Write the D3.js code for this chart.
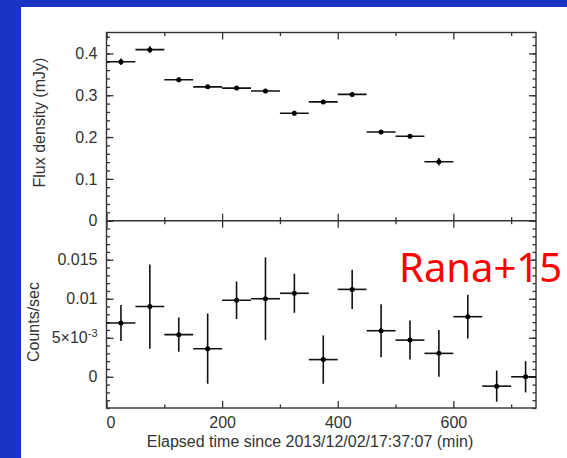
<!DOCTYPE html>
<html lang="en">
<head>
<meta charset="UTF-8">
<title>Flux density and X-ray counts</title>
<script src="https://cdn.jsdelivr.net/npm/d3@7"></script>
<style>
  body { margin: 0; background: #1933c2; }
  svg { display: block; }
</style>
</head>
<body>
<script>
// top panel: flux density (mJy), 50 min bins
const fluxTimes = [25, 75, 125, 175, 225, 275, 325, 375, 425, 475, 525, 575];
const fluxValues = [0.380, 0.409, 0.337, 0.320, 0.317, 0.310, 0.257, 0.284, 0.302, 0.212, 0.202, 0.141];
const fluxErr = [0.008, 0.008, 0.006, 0.005, 0.005, 0.005, 0.006, 0.005, 0.005, 0.005, 0.005, 0.009];

// bottom panel: counts/sec
const countTimes = [25, 75, 125, 175, 225, 275, 325, 375, 425, 475, 525, 575, 625, 675, 725];
const countValues = [0.0069, 0.0090, 0.0054, 0.0036, 0.0098, 0.0100, 0.0107, 0.0022, 0.0112, 0.0059, 0.0047, 0.0030, 0.0077, -0.0012, 0.0000];
const countErr = [0.0023, 0.0054, 0.0022, 0.0045, 0.0024, 0.0053, 0.0025, 0.0031, 0.0025, 0.0034, 0.0025, 0.0030, 0.0028, 0.0020, 0.0020];
const binHalf = 25;

const xMajor = [0, 200, 400, 600];
const xMajorLabels = ['0', '200', '400', '600'];
const xMinor = [100, 300, 500, 700];
const fluxMajor = [0, 0.1, 0.2, 0.3, 0.4];
const fluxLabels = ['0', '0.1', '0.2', '0.3', '0.4'];
const fluxMinor = d3.range(0, 0.4501, 0.02);
const countMajor = [0, 0.005, 0.01, 0.015];
const countLabels = ['0', '5×10', '0.01', '0.015'];
const countMinor = d3.range(-0.004, 0.02001, 0.001);

const width = 567;
const height = 458;
const ink = '#333';
const font = '"Liberation Sans", Arial, sans-serif';

const svg = d3.select('body').append('svg')
  .attr('width', width)
  .attr('height', height);

// slide background + white card
svg.append('rect').attr('width', width).attr('height', height).attr('fill', '#1933c2');
svg.append('rect').attr('x', 21).attr('y', 7).attr('width', width - 21).attr('height', height - 7).attr('fill', '#fff');

const x = d3.scaleLinear().domain([0, 743]).range([106.5, 536]);
const yFlux = d3.scaleLinear().domain([0, 0.45]).range([220.7, 32.5]);
const yCount = d3.scaleLinear().domain([-0.004, 0.02]).range([408, 220.7]);

function addTicks(axis, values, size, labels, transform) {
  const g = svg.append('g').attr('transform', transform || null);
  axis.tickValues(values)
    .tickSizeInner(-size)
    .tickSizeOuter(0)
    .tickPadding(9)
    .tickFormat(labels ? (d, i) => labels[i] : () => '');
  g.call(axis);
  g.select('.domain').remove();
  g.attr('font-size', 16).attr('font-family', font);
  g.selectAll('line').attr('stroke', ink).attr('stroke-width', 1.3);
  g.selectAll('text').attr('fill', ink);
  return g;
}

// top panel ticks
addTicks(d3.axisLeft(yFlux), fluxMajor, 7, fluxLabels, `translate(${x.range()[0]},0)`);
addTicks(d3.axisLeft(yFlux), fluxMinor, 3.5, null, `translate(${x.range()[0]},0)`);
addTicks(d3.axisRight(yFlux), fluxMajor, 7, null, `translate(${x.range()[1]},0)`);
addTicks(d3.axisRight(yFlux), fluxMinor, 3.5, null, `translate(${x.range()[1]},0)`);
addTicks(d3.axisTop(x), xMajor, 7, null, `translate(0,${yFlux.range()[1]})`);
addTicks(d3.axisTop(x), xMinor, 3.5, null, `translate(0,${yFlux.range()[1]})`);
addTicks(d3.axisBottom(x), xMajor, 7, null, `translate(0,${yFlux(0)})`);
addTicks(d3.axisBottom(x), xMinor, 3.5, null, `translate(0,${yFlux(0)})`);

// bottom panel ticks
const countAxis = addTicks(d3.axisLeft(yCount), countMajor, 7, countLabels, `translate(${x.range()[0]},0)`);
countAxis.selectAll('text').filter(d => d === 0.005)
  .append('tspan')
  .attr('font-size', 11)
  .attr('dy', '-0.55em')
  .text('-3');
addTicks(d3.axisLeft(yCount), countMinor, 3.5, null, `translate(${x.range()[0]},0)`);
addTicks(d3.axisRight(yCount), countMajor, 7, null, `translate(${x.range()[1]},0)`);
addTicks(d3.axisRight(yCount), countMinor, 3.5, null, `translate(${x.range()[1]},0)`);
addTicks(d3.axisTop(x), xMajor, 7, null, `translate(0,${yCount.range()[1]})`);
addTicks(d3.axisTop(x), xMinor, 3.5, null, `translate(0,${yCount.range()[1]})`);
const xAxisG = addTicks(d3.axisBottom(x), xMajor, 7, xMajorLabels, `translate(0,${yCount.range()[0]})`);
xAxisG.selectAll('text').filter(d => d === 0).attr('dx', 4);
addTicks(d3.axisBottom(x), xMinor, 3.5, null, `translate(0,${yCount.range()[0]})`);

// frames
svg.append('rect')
  .attr('x', x.range()[0]).attr('y', yFlux.range()[1])
  .attr('width', x.range()[1] - x.range()[0])
  .attr('height', yCount.range()[0] - yFlux.range()[1])
  .attr('fill', 'none').attr('stroke', ink).attr('stroke-width', 1.4);
svg.append('line')
  .attr('x1', x.range()[0]).attr('x2', x.range()[1])
  .attr('y1', yFlux(0)).attr('y2', yFlux(0))
  .attr('stroke', ink).attr('stroke-width', 1.4);

svg.append('clipPath').attr('id', 'clip')
  .append('rect')
  .attr('x', x.range()[0]).attr('y', yFlux.range()[1])
  .attr('width', x.range()[1] - x.range()[0])
  .attr('height', yCount.range()[0] - yFlux.range()[1]);

function drawPoints(times, values, errs, yScale) {
  const g = svg.append('g').attr('clip-path', 'url(#clip)');
  const pts = g.selectAll('g.pt')
    .data(times.map((t, i) => ({ t, v: values[i], e: errs[i] })))
    .enter().append('g').attr('class', 'pt');
  pts.append('line')
    .attr('x1', d => x(d.t - binHalf)).attr('x2', d => x(d.t + binHalf))
    .attr('y1', d => yScale(d.v)).attr('y2', d => yScale(d.v))
    .attr('stroke', '#111').attr('stroke-width', 1.6);
  pts.append('line')
    .attr('x1', d => x(d.t)).attr('x2', d => x(d.t))
    .attr('y1', d => yScale(d.v - d.e)).attr('y2', d => yScale(d.v + d.e))
    .attr('stroke', '#111').attr('stroke-width', 1.6);
  pts.append('circle')
    .attr('cx', d => x(d.t)).attr('cy', d => yScale(d.v))
    .attr('r', 2.5).attr('fill', '#000');
}

drawPoints(fluxTimes, fluxValues, fluxErr, yFlux);
drawPoints(countTimes, countValues, countErr, yCount);

// axis titles
svg.append('text')
  .attr('transform', `translate(39,${(yFlux.range()[1] + yFlux(0)) / 2 - 4}) rotate(-90)`)
  .attr('text-anchor', 'middle').attr('dy', '0.35em')
  .attr('font-family', font).attr('font-size', 16).attr('fill', ink)
  .text('Flux density (mJy)');
svg.append('text')
  .attr('transform', `translate(33,322) rotate(-90)`)
  .attr('text-anchor', 'middle').attr('dy', '0.35em')
  .attr('font-family', font).attr('font-size', 16).attr('fill', ink)
  .text('Counts/sec');
svg.append('text')
  .attr('x', 310).attr('y', 446.5)
  .attr('text-anchor', 'middle')
  .attr('font-family', font).attr('font-size', 16).attr('fill', ink)
  .text('Elapsed time since 2013/12/02/17:37:07 (min)');

svg.append('text')
  .attr('x', 399).attr('y', 281.5)
  .attr('font-family', '"Noto Sans", "Open Sans", sans-serif')
  .attr('font-size', 40).attr('fill', '#ff0000')
  .text('Rana+15');
</script>
</body>
</html>
